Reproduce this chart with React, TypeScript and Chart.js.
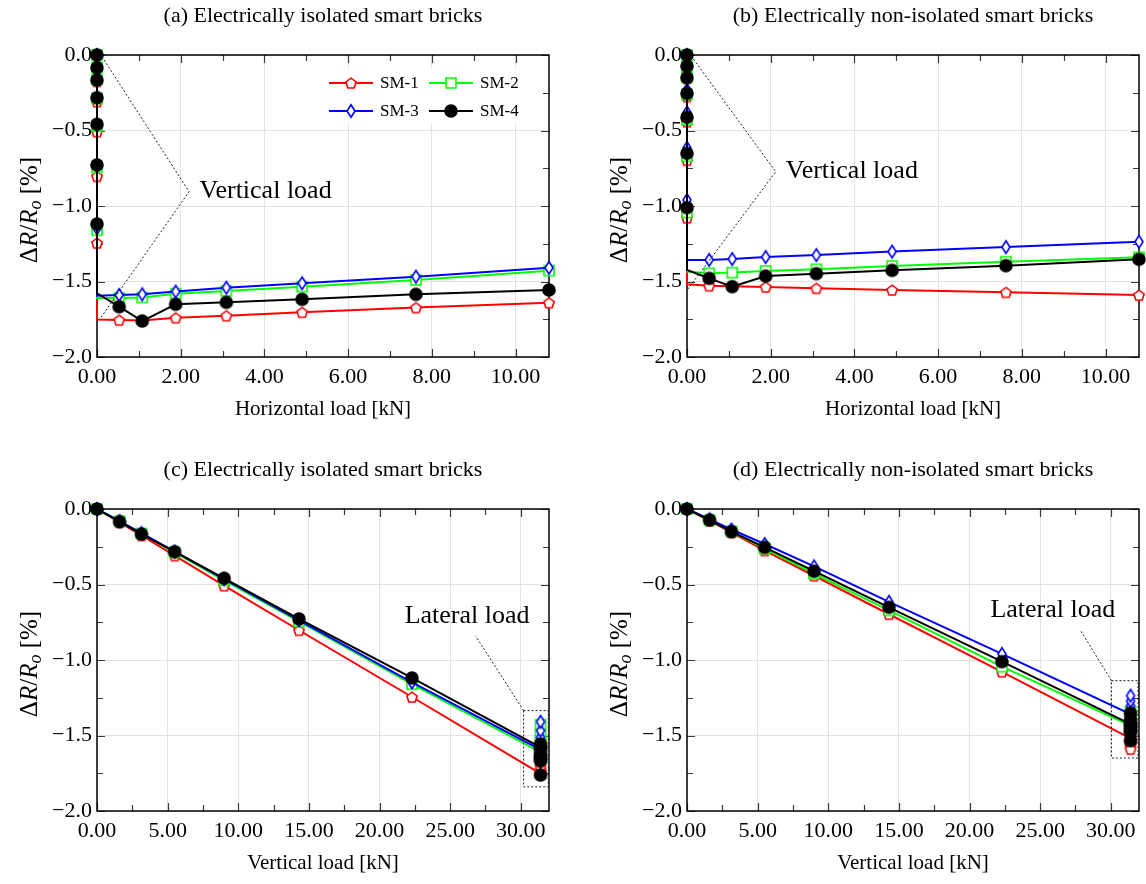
import React, { useEffect, useRef } from 'react';
import { Chart, registerables } from 'chart.js';

Chart.register(...registerables);

const FONT = '"Liberation Serif", "DejaVu Serif", serif';

// Load steps
const VERTICAL_LOAD = [0, 1.6, 3.15, 5.5, 9.0, 14.3, 22.3, 31.4];
const HORIZONTAL_LOAD = [0.53, 1.08, 1.88, 3.09, 4.9, 7.62, 10.8];

const SERIES_NAMES = ['SM-1', 'SM-2', 'SM-3', 'SM-4'];
const COLORS = ['#ff0000', '#00ff00', '#0000ff', '#000000'];

// Electrically isolated: values during vertical loading (V) and lateral loading (H)
const SM1_ISO_V = [0, -0.088, -0.175, -0.309, -0.508, -0.803, -1.245, -1.752];
const SM1_ISO_H = [-1.755, -1.758, -1.74, -1.726, -1.704, -1.673, -1.64];
const SM2_ISO_V = [0, -0.082, -0.163, -0.287, -0.472, -0.745, -1.16, -1.61];
const SM2_ISO_H = [-1.609, -1.606, -1.581, -1.563, -1.534, -1.49, -1.428];
const SM3_ISO_V = [0, -0.08, -0.16, -0.282, -0.465, -0.738, -1.148, -1.594];
const SM3_ISO_H = [-1.589, -1.585, -1.567, -1.541, -1.512, -1.468, -1.409];
const SM4_ISO_V = [0, -0.084, -0.166, -0.283, -0.459, -0.728, -1.119, -1.578];
const SM4_ISO_H = [-1.667, -1.762, -1.651, -1.638, -1.618, -1.585, -1.556];

// Electrically non-isolated
const SM1_NON_V = [0, -0.078, -0.155, -0.275, -0.442, -0.697, -1.078, -1.519];
const SM1_NON_H = [-1.528, -1.531, -1.536, -1.545, -1.556, -1.572, -1.59];
const SM2_NON_V = [0, -0.074, -0.148, -0.262, -0.428, -0.672, -1.044, -1.435];
const SM2_NON_H = [-1.446, -1.441, -1.43, -1.419, -1.397, -1.369, -1.34];
const SM3_NON_V = [0, -0.068, -0.136, -0.232, -0.38, -0.615, -0.96, -1.358];
const SM3_NON_H = [-1.357, -1.351, -1.338, -1.325, -1.302, -1.272, -1.236];
const SM4_NON_V = [0, -0.073, -0.15, -0.254, -0.412, -0.651, -1.011, -1.424];
const SM4_NON_H = [-1.479, -1.534, -1.464, -1.448, -1.426, -1.395, -1.353];

const ISOLATED = [
  { v: SM1_ISO_V, h: SM1_ISO_H },
  { v: SM2_ISO_V, h: SM2_ISO_H },
  { v: SM3_ISO_V, h: SM3_ISO_H },
  { v: SM4_ISO_V, h: SM4_ISO_H },
];
const NON_ISOLATED = [
  { v: SM1_NON_V, h: SM1_NON_H },
  { v: SM2_NON_V, h: SM2_NON_H },
  { v: SM3_NON_V, h: SM3_NON_H },
  { v: SM4_NON_V, h: SM4_NON_H },
];

const Y_MIN = -2;
const Y_MAX = 0;

const PANELS = [
  {
    id: 'a', title: '(a) Electrically isolated smart bricks', mode: 'h', data: ISOLATED,
    xTitle: 'Horizontal load [kN]', xMax: 10.8, xStep: 2, xMinor: 1, xDec: 2, legend: true,
    left: 0, top: 0,
    annot: { kind: 'h', text: 'Vertical load', at: [2.45, -0.905], path: [[0.12, -0.011], [2.2, -0.905], [0.08, -1.744]] },
  },
  {
    id: 'b', title: '(b) Electrically non-isolated smart bricks', mode: 'h', data: NON_ISOLATED,
    xTitle: 'Horizontal load [kN]', xMax: 10.8, xStep: 2, xMinor: 1, xDec: 2, legend: false,
    left: 590, top: 0,
    annot: { kind: 'h', text: 'Vertical load', at: [2.36, -0.768], path: [[0.1, -0.007], [2.12, -0.773], [0.005, -1.556]] },
  },
  {
    id: 'c', title: '(c) Electrically isolated smart bricks', mode: 'v', data: ISOLATED,
    xTitle: 'Vertical load [kN]', xMax: 32, xStep: 5, xMinor: 2.5, xDec: 2, legend: false,
    left: 0, top: 454,
    annot: { kind: 'v', text: 'Lateral load', at: [26.2, -0.71], box: [30.2, -1.335, 31.95, -1.84], path: [[30.2, -1.335], [26.8, -0.84]] },
  },
  {
    id: 'd', title: '(d) Electrically non-isolated smart bricks', mode: 'v', data: NON_ISOLATED,
    xTitle: 'Vertical load [kN]', xMax: 32, xStep: 5, xMinor: 2.5, xDec: 2, legend: false,
    left: 590, top: 454,
    annot: { kind: 'v', text: 'Lateral load', at: [25.9, -0.67], box: [30.05, -1.137, 31.93, -1.649], path: [[30.05, -1.137], [27.9, -0.81]] },
  },
];

function buildPoints(s: { v: number[]; h: number[] }, mode: string) {
  const ys = [...s.v, ...s.h];
  const lastV = VERTICAL_LOAD[VERTICAL_LOAD.length - 1];
  const xs = mode === 'h'
    ? [...VERTICAL_LOAD.map(() => 0), ...HORIZONTAL_LOAD]
    : [...VERTICAL_LOAD, ...HORIZONTAL_LOAD.map(() => lastV)];
  return xs.map((x, i) => ({ x, y: ys[i] }));
}

function makeMarker(kind: string, color: string) {
  const c = document.createElement('canvas');
  const s = 16;
  c.width = s;
  c.height = s;
  const g = c.getContext('2d') as CanvasRenderingContext2D;
  g.lineWidth = 1.6;
  g.strokeStyle = color;
  g.fillStyle = '#ffffff';
  g.beginPath();
  const cx = s / 2, cy = s / 2;
  if (kind === 'pentagon') {
    const r = 5.4;
    for (let i = 0; i < 5; i++) {
      const a = -Math.PI / 2 + (i * 2 * Math.PI) / 5;
      const px = cx + r * Math.cos(a), py = cy + 0.6 + r * Math.sin(a);
      if (i === 0) g.moveTo(px, py); else g.lineTo(px, py);
    }
  } else if (kind === 'square') {
    g.rect(cx - 5, cy - 5, 10, 10);
  } else if (kind === 'diamond') {
    g.moveTo(cx, cy - 6.2);
    g.lineTo(cx + 4, cy);
    g.lineTo(cx, cy + 6.2);
    g.lineTo(cx - 4, cy);
  } else {
    g.arc(cx, cy, 6, 0, Math.PI * 2);
    g.fillStyle = color;
  }
  g.closePath();
  g.fill();
  g.stroke();
  return c;
}

function fmt(v: number, d: number) {
  if (Math.abs(v) < 1e-9) return (0).toFixed(d);
  const s = Math.abs(v).toFixed(d);
  return v < 0 ? '\u2212' + s : s;
}

function makePlugin(panel: any, markers: HTMLCanvasElement[]) {
  return {
    id: 'decor',
    beforeDatasetsDraw(chart: any) {
      const { ctx, chartArea: a, scales } = chart;
      const xs = scales.x, ys = scales.y;
      ctx.save();
      ctx.strokeStyle = '#3a3a3a';
      ctx.lineWidth = 1.2;
      ctx.beginPath();
      const nx = Math.floor(panel.xMax / panel.xMinor + 1e-9);
      for (let i = 0; i <= nx; i++) {
        const v = i * panel.xMinor;
        const major = Math.abs(v / panel.xStep - Math.round(v / panel.xStep)) < 1e-6;
        const L = major ? 8 : 6;
        const px = Math.round(xs.getPixelForValue(v)) + 0.5;
        ctx.moveTo(px, a.bottom); ctx.lineTo(px, a.bottom - L);
        ctx.moveTo(px, a.top); ctx.lineTo(px, a.top + L);
      }
      const ny = Math.round((Y_MAX - Y_MIN) / 0.25);
      for (let i = 0; i <= ny; i++) {
        const v = Y_MIN + i * 0.25;
        const major = i % 2 === 0;
        const L = major ? 8 : 6;
        const py = Math.round(ys.getPixelForValue(v)) + 0.5;
        ctx.moveTo(a.left, py); ctx.lineTo(a.left + L, py);
        ctx.moveTo(a.right, py); ctx.lineTo(a.right - L, py);
      }
      ctx.stroke();
      ctx.strokeStyle = '#000';
      ctx.lineWidth = 1.5;
      ctx.strokeRect(a.left, a.top, a.right - a.left, a.bottom - a.top);
      ctx.restore();
    },
    afterDatasetsDraw(chart: any) {
      const { ctx, scales } = chart;
      const xs = scales.x, ys = scales.y;
      const P = (p: number[]) => [xs.getPixelForValue(p[0]), ys.getPixelForValue(p[1])];
      const an = panel.annot;
      ctx.save();
      ctx.setLineDash([2, 2]);
      ctx.strokeStyle = '#222';
      ctx.lineWidth = 1;
      ctx.beginPath();
      an.path.forEach((p: number[], i: number) => {
        const [px, py] = P(p);
        if (i === 0) ctx.moveTo(px, py); else ctx.lineTo(px, py);
      });
      ctx.stroke();
      if (an.box) {
        const [x1, y1] = P([an.box[0], an.box[1]]);
        const [x2, y2] = P([an.box[2], an.box[3]]);
        ctx.strokeRect(x1, y1, x2 - x1, y2 - y1);
      }
      ctx.setLineDash([]);
      ctx.fillStyle = '#000';
      ctx.font = `26px ${FONT}`;
      ctx.textBaseline = 'middle';
      ctx.textAlign = an.kind === 'h' ? 'left' : 'center';
      const [tx, ty] = P(an.at);
      ctx.fillText(an.text, tx, ty);

      if (panel.legend) {
        ctx.fillStyle = '#ffffff';
        ctx.fillRect(322, 68, 206, 56);
        const pos = [[329, 83], [429, 83], [329, 111], [429, 111]];
        ctx.font = `17px ${FONT}`;
        ctx.textAlign = 'left';
        ctx.textBaseline = 'middle';
        for (let i = 0; i < 4; i++) {
          const [lx, ly] = pos[i];
          ctx.strokeStyle = COLORS[i];
          ctx.lineWidth = 2;
          ctx.beginPath();
          ctx.moveTo(lx, ly);
          ctx.lineTo(lx + 44, ly);
          ctx.stroke();
          ctx.drawImage(markers[i], lx + 22 - 8, ly - 8);
          ctx.fillStyle = '#000';
          ctx.fillText(SERIES_NAMES[i], lx + 51, ly + 1);
        }
      }
      ctx.restore();
    },
    afterDraw(chart: any) {
      const { ctx, chartArea: a } = chart;
      ctx.save();
      // panel title, centred over the plot area
      ctx.fillStyle = '#000';
      ctx.font = `22px ${FONT}`;
      ctx.textAlign = 'center';
      ctx.textBaseline = 'middle';
      ctx.fillText(panel.title, (a.left + a.right) / 2, 16);

      // y axis title with italic R and subscript o
      const segs = [
        { t: '\u0394', it: false, sub: false },
        { t: 'R', it: true, sub: false },
        { t: '/', it: false, sub: false },
        { t: 'R', it: true, sub: false },
        { t: 'o', it: true, sub: true },
        { t: ' [%]', it: false, sub: false },
      ];
      const size = 25;
      const fontOf = (s: any) => `${s.it ? 'italic ' : ''}${s.sub ? Math.round(size * 0.7) : size}px ${FONT}`;
      let total = 0;
      const widths = segs.map((s) => {
        ctx.font = fontOf(s);
        const w = ctx.measureText(s.t).width;
        total += w;
        return w;
      });
      const cy = (a.top + a.bottom) / 2 + 4;
      ctx.translate(28.5, cy);
      ctx.rotate(-Math.PI / 2);
      ctx.textBaseline = 'alphabetic';
      ctx.textAlign = 'left';
      let x = -total / 2;
      segs.forEach((s, i) => {
        ctx.font = fontOf(s);
        ctx.fillText(s.t, x, s.sub ? 12 : 8);
        x += widths[i];
      });
      ctx.restore();
    },
  };
}

function Panel({ panel }: { panel: any }) {
  const ref = useRef<HTMLCanvasElement>(null);
  useEffect(() => {
    const markers = [
      makeMarker('pentagon', COLORS[0]),
      makeMarker('square', COLORS[1]),
      makeMarker('diamond', COLORS[2]),
      makeMarker('circle', COLORS[3]),
    ];
    const lastV = VERTICAL_LOAD.length - 1;
    const datasets = panel.data.map((s: any, i: number) => ({
      label: SERIES_NAMES[i],
      data: buildPoints(s, panel.mode),
      borderColor: COLORS[i],
      backgroundColor: COLORS[i],
      borderWidth: 2,
      pointStyle: markers[i],
      pointRadius: (c: any) => (panel.mode === 'h' && c.dataIndex === lastV ? 0 : 5),
      tension: 0,
      clip: false,
      order: 3 - i,
    }));
    const chart = new Chart(ref.current as HTMLCanvasElement, {
      type: 'line',
      data: { datasets },
      options: {
        animation: false,
        responsive: false,
        devicePixelRatio: 1,
        events: [],
        layout: { padding: { left: 0, right: 5, top: 55, bottom: 8 } },
        plugins: {
          legend: { display: false },
          tooltip: { enabled: false },
          title: { display: false },
        },
        scales: {
          x: {
            type: 'linear',
            min: 0,
            max: panel.xMax,
            afterFit: (s: any) => { s.height = 65; },
            grid: { color: '#e2e2e2', lineWidth: 1, drawTicks: false },
            border: { display: false },
            ticks: {
              stepSize: panel.xStep,
              includeBounds: false,
              autoSkip: false,
              maxRotation: 0,
              padding: 7,
              color: '#000',
              font: { family: FONT, size: 22 },
              callback: (v: any) => fmt(Number(v), panel.xDec),
            },
            title: {
              display: true,
              text: panel.xTitle,
              color: '#000',
              font: { family: FONT, size: 21, lineHeight: 1.2 },
              padding: { top: 0, bottom: 0 },
            },
          },
          y: {
            type: 'linear',
            min: Y_MIN,
            max: Y_MAX,
            afterFit: (s: any) => { s.width = 97; },
            grid: { color: '#e2e2e2', lineWidth: 1, drawTicks: false },
            border: { display: false },
            ticks: {
              stepSize: 0.5,
              autoSkip: false,
              padding: 5,
              color: '#000',
              font: { family: FONT, size: 22 },
              callback: (v: any) => fmt(Number(v), 1),
            },
          },
        },
      },
      plugins: [makePlugin(panel, markers)],
    } as any);
    return () => chart.destroy();
  }, []);
  return (
    <canvas
      ref={ref}
      width={556}
      height={430}
      style={{ position: 'absolute', left: panel.left, top: panel.top, width: 556, height: 430 }}
    />
  );
}

export default function App() {
  return (
    <div style={{ position: 'fixed', left: 0, top: 0, width: 1146, height: 884, background: '#fff', overflow: 'hidden' }}>
      {PANELS.map((p) => (
        <Panel key={p.id} panel={p} />
      ))}
    </div>
  );
}
